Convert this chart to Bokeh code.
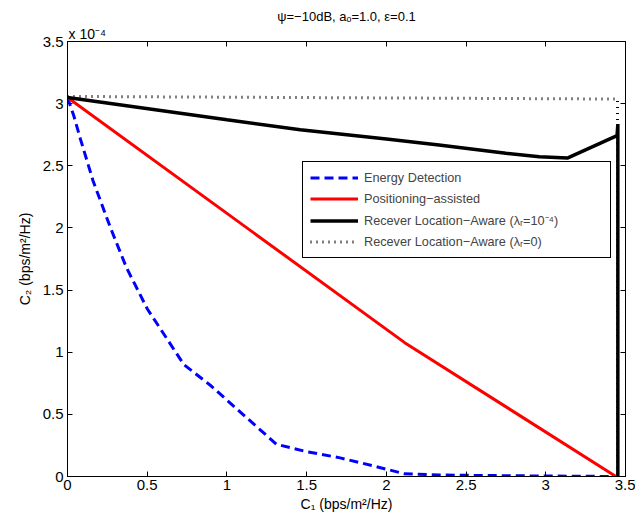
from bokeh.plotting import figure
from bokeh.models import (LinearAxis, FixedTicker, CustomJSTickFormatter, Legend,
                          LegendItem, Title, Range1d)
from bokeh.embed import file_html
from bokeh.resources import INLINE

# Values of C2 are in units of 1e-4 bps/m^2/Hz (axis multiplier "x 10^-4")
energy_x = [0.0, 0.04, 0.08, 0.16, 0.27, 0.37, 0.50, 0.73, 0.90, 1.10, 1.31,
            1.50, 1.71, 1.92, 2.11, 2.33, 2.60, 3.00, 3.44]
energy_y = [3.05, 2.90, 2.72, 2.38, 2.00, 1.68, 1.35, 0.90, 0.73, 0.50, 0.26,
            0.20, 0.15, 0.085, 0.023, 0.012, 0.008, 0.004, 0.0]

pos_x = [0.0, 2.115, 3.44]
pos_y = [3.05, 1.077, 0.0]

rla_x = [0.0, 1.0, 1.46, 2.0, 2.33, 2.75, 2.96, 3.135, 3.447, 3.452, 3.452]
rla_y = [3.05, 2.87, 2.79, 2.715, 2.667, 2.60, 2.573, 2.562, 2.742, 2.836, 0.0]

rla0_x = [0.0, 3.45, 3.45]
rla0_y = [3.058, 3.037, 0.0]

x_ticks = [0, 0.5, 1, 1.5, 2, 2.5, 3, 3.5]
y_ticks = [0, 0.5, 1, 1.5, 2, 2.5, 3, 3.5]

labels = ["Energy Detection",
          "Positioning\u2212assisted",
          "Recever Location\u2212Aware (\u03bb\u1d63=10\u207b\u2074)",
          "Recever Location\u2212Aware (\u03bb\u1d63=0)"]

title_text = "\u03c8=\u221210dB, a\u2092=1.0, \u03b5=0.1"
multiplier_text = "x 10\u207b\u2074"

FONT = "Liberation Sans"

p = figure(frame_width=558, frame_height=435, title=None,
           x_range=Range1d(0, 3.5), y_range=Range1d(0, 3.5),
           output_backend="svg", toolbar_location=None,
           min_border_left=67, min_border_top=41, min_border_right=10,
           min_border_bottom=0)
p.xgrid.visible = False
p.ygrid.visible = False
p.outline_line_color = "black"
p.outline_line_width = 1
p.background_fill_color = "white"
p.border_fill_color = "white"

fmt = CustomJSTickFormatter(code="return tick.toString();")
for ax, ticks in ((p.xaxis[0], x_ticks), (p.yaxis[0], y_ticks)):
    ax.ticker = FixedTicker(ticks=ticks)
    ax.formatter = fmt
    ax.major_tick_in = 5
    ax.major_tick_out = 0
    ax.minor_tick_in = 0
    ax.minor_tick_out = 0
    ax.axis_line_color = "black"
    ax.major_tick_line_color = "black"
    ax.major_label_text_font = FONT
    ax.major_label_text_font_size = "15px"
    ax.major_label_text_color = "black"
    ax.axis_label_text_font = FONT
    ax.axis_label_text_font_size = "14px"
    ax.axis_label_text_font_style = "normal"
    ax.axis_label_text_color = "black"
    ax.major_label_standoff = 4

p.xaxis[0].axis_label = "C\u2081 (bps/m\u00b2/Hz)"
p.xaxis[0].axis_label_standoff = 3
p.xaxis[0].major_label_standoff = 3
p.yaxis[0].axis_label = "C\u2082 (bps/m\u00b2/Hz)"
p.yaxis[0].axis_label_standoff = 7

blank = CustomJSTickFormatter(code="return '';")
for side, ticks in (("above", x_ticks), ("right", y_ticks)):
    ax = LinearAxis(ticker=FixedTicker(ticks=ticks), formatter=blank,
                    major_tick_in=5, major_tick_out=0, minor_tick_in=0,
                    minor_tick_out=0, axis_line_color="black",
                    major_label_standoff=0)
    p.add_layout(ax, side)

p.add_layout(Title(text=multiplier_text, align="left", offset=1, standoff=0,
                   text_font=FONT, text_font_size="14px",
                   text_font_style="normal", text_color="black"), "above")
p.add_layout(Title(text=title_text, align="center", standoff=0,
                   text_font=FONT, text_font_size="13px",
                   text_font_style="normal", text_color="black"), "above")

r_blue = p.line(energy_x, energy_y, line_color="#0000ff", line_width=3,
                line_dash="9 5")
r_red = p.line(pos_x, pos_y, line_color="#ff0000", line_width=3)
r_black = p.line(rla_x, rla_y, line_color="black", line_width=3.5)
r_dot = p.line(rla0_x, rla0_y, line_color="black", line_width=3,
               line_dash="1 5")

legend = Legend(items=[LegendItem(label=labels[0], renderers=[r_blue]),
                       LegendItem(label=labels[1], renderers=[r_red]),
                       LegendItem(label=labels[2], renderers=[r_black]),
                       LegendItem(label=labels[3], renderers=[r_dot])],
                location=(235, 218), border_line_color="black",
                border_line_width=1, border_line_alpha=1,
                background_fill_color="white", background_fill_alpha=1,
                label_text_font=FONT, label_text_font_size="12.7px",
                glyph_width=48, glyph_height=17, label_height=17,
                label_width=239, spacing=4, padding=7, label_standoff=6,
                margin=0)
p.add_layout(legend)

open("out.html", "w").write(file_html(p, INLINE))
